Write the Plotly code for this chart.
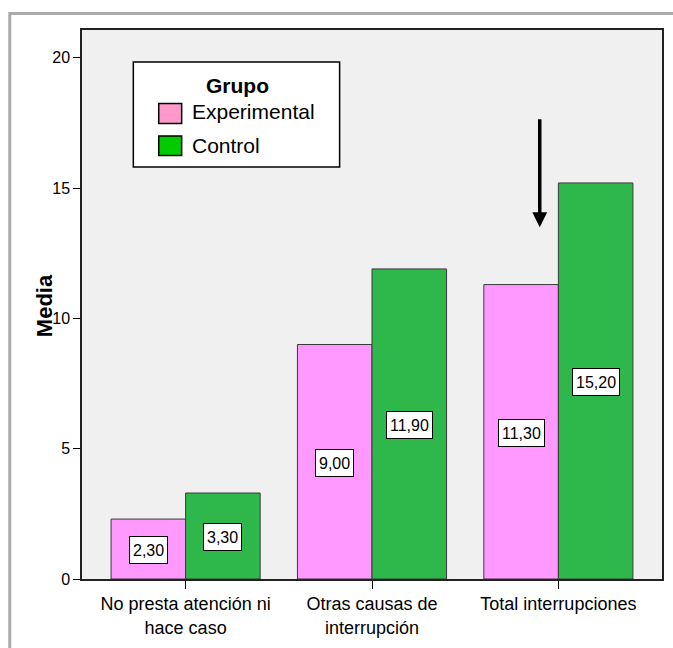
import plotly.graph_objects as go

# Mean number of interruptions per category and group
categorias = ["No presta atención ni<br>hace caso", "Otras causas de<br>interrupción", "Total interrupciones"]
experimental = [2.30, 9.00, 11.30]
control = [3.30, 11.90, 15.20]
y_ticks = [0, 5, 10, 15, 20]

W, H = 673, 648
ML, MR, MT, MB = 82, 9, 30, 69
PW, PH = W - ML - MR, H - MT - MB

FONT = "Liberation Sans, Arial, sans-serif"
PINK, GREEN = "#FF99FF", "#2EB84B"
LEG_PINK, LEG_GREEN = "#FF99CC", "#00CC00"


def px(x):
    return (x - ML) / PW


def py(y):
    return (H - MB - y) / PH


def fmt(v):
    return f"{v:.2f}".replace(".", ",")


fig = go.Figure()
fig.add_trace(go.Bar(x=list(range(len(categorias))), y=experimental, name="Experimental",
                     marker=dict(color=PINK, line=dict(color="#3A3A3A", width=1))))
fig.add_trace(go.Bar(x=list(range(len(categorias))), y=control, name="Control",
                     marker=dict(color=GREEN, line=dict(color="#3A3A3A", width=1))))

annotations = []
# Value labels in white boxes, centred vertically in each bar
for i, (e, c) in enumerate(zip(experimental, control)):
    for off, v in ((-0.2, e), (0.2, c)):
        annotations.append(dict(
            x=i + off, y=v / 2, xref="x", yref="y", yshift=-1, text=fmt(v), showarrow=False,
            font=dict(family=FONT, size=16, color="black"), height=20,
            bgcolor="white", bordercolor="black", borderwidth=1, borderpad=3))

# Arrow pointing at the total for the experimental group
annotations.append(dict(
    x=1.9, y=13.5, xref="x", yref="y", ax=1.9, ay=17.7, axref="x", ayref="y",
    text="", showarrow=True, arrowhead=2, arrowsize=0.85, arrowwidth=3.5, arrowcolor="black"))

# Y axis title
annotations.append(dict(x=px(44), y=py(306), xref="paper", yref="paper", text="<b>Media</b>",
                        textangle=-90, showarrow=False,
                        font=dict(family=FONT, size=22, color="black"),
                        xanchor="center", yanchor="middle"))

# Legend
annotations.append(dict(x=px(238), y=py(86), xref="paper", yref="paper", text="<b>Grupo</b>",
                        showarrow=False, font=dict(family=FONT, size=21, color="black"),
                        xanchor="center", yanchor="middle"))
for label, yc in (("Experimental", 112), ("Control", 145)):
    annotations.append(dict(x=px(190), y=py(yc), xref="paper", yref="paper", text=label,
                            showarrow=False, font=dict(family=FONT, size=21, color="black"),
                            xanchor="left", yanchor="middle"))

shapes = [
    # outer frame
    dict(type="rect", xref="paper", yref="paper", x0=px(9.5), x1=px(700), y0=py(700), y1=py(13.5),
         line=dict(color="#ABABAB", width=3), fillcolor="rgba(0,0,0,0)", layer="below"),
    # legend box
    dict(type="rect", xref="paper", yref="paper", x0=px(133.5), x1=px(340.5), y0=py(167), y1=py(62),
         line=dict(color="black", width=1.5), fillcolor="white"),
    dict(type="rect", xref="paper", yref="paper", x0=px(159), x1=px(182), y0=py(123.5), y1=py(103.5),
         line=dict(color="black", width=1.5), fillcolor=LEG_PINK),
    dict(type="rect", xref="paper", yref="paper", x0=px(159), x1=px(182), y0=py(155.5), y1=py(136),
         line=dict(color="black", width=1.5), fillcolor=LEG_GREEN),
]

fig.update_layout(
    width=W, height=H,
    margin=dict(l=ML, r=MR, t=MT, b=MB, pad=0),
    paper_bgcolor="white", plot_bgcolor="#F0F0F0",
    barmode="group", bargap=0.2, bargroupgap=0,
    showlegend=False,
    font=dict(family=FONT, color="black"),
    annotations=annotations, shapes=shapes,
    xaxis=dict(
        tickmode="array", tickvals=list(range(len(categorias))), ticktext=categorias,
        range=[-0.556, 2.556], ticks="outside", ticklen=8, tickcolor="black", tickwidth=1,
        showline=True, linecolor="#222222", linewidth=1.5, mirror=True,
        showgrid=False, zeroline=False, tickfont=dict(family=FONT, size=18, color="black")),
    yaxis=dict(
        range=[0, 21.07], tickvals=y_ticks, ticks="outside", ticklen=7, tickcolor="black",
        tickwidth=1, showline=True, linecolor="#222222", linewidth=1.5, mirror=True,
        showgrid=False, zeroline=False, tickfont=dict(family=FONT, size=16, color="black")),
)

fig.write_html("out.html")
